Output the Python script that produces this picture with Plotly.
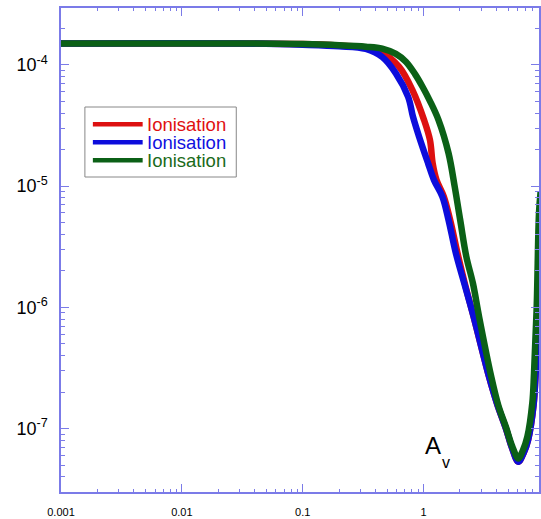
import plotly.graph_objects as go

# ---- data ----
red_x = [0.001, 0.03, 0.1, 0.2, 0.333, 0.455, 0.628, 0.809, 1.01, 1.13, 1.19, 1.28, 1.47, 1.66, 1.91, 2.21, 2.594, 3.48, 4.06, 4.79, 5.40, 6.08, 6.72, 7.32, 8.13, 8.44, 8.93, 9.37]
red_y = [1.5e-4, 1.5e-4, 1.48e-4, 1.44e-4, 1.39e-4, 1.26e-4, 9.6e-5, 6.18e-5, 3.5e-5, 2.39e-5, 1.53e-5, 1.12e-5, 8.2e-6, 5.24e-6, 2.79e-6, 1.53e-6, 8.37e-7, 2.68e-7, 1.60e-7, 1.01e-7, 6.92e-8, 5.33e-8, 6.30e-8, 8.05e-8, 1.57e-7, 2.77e-7, 7.85e-7, 4.34e-6]

blue_x = [0.001, 0.03, 0.1, 0.2, 0.333, 0.455, 0.59, 0.745, 0.817, 0.918, 1.09, 1.22, 1.43, 1.61, 1.85, 2.19, 2.594, 3.48, 4.06, 4.79, 5.40, 6.08, 6.72, 7.32, 8.13, 8.44, 8.93, 9.37]
blue_y = [1.5e-4, 1.5e-4, 1.46e-4, 1.42e-4, 1.35e-4, 1.16e-4, 8.5e-5, 5.44e-5, 3.73e-5, 2.55e-5, 1.54e-5, 1.12e-5, 8.2e-6, 5.24e-6, 2.79e-6, 1.53e-6, 8.37e-7, 2.68e-7, 1.60e-7, 1.01e-7, 6.92e-8, 5.33e-8, 6.30e-8, 8.05e-8, 1.57e-7, 2.77e-7, 7.85e-7, 4.34e-6]

green_x = [0.001, 0.03, 0.1, 0.2, 0.333, 0.455, 0.59, 0.714, 0.85, 0.98, 1.13, 1.33, 1.61, 1.81, 2.01, 2.26, 2.56, 2.88, 3.62, 4.16, 4.79, 5.40, 6.08, 6.65, 7.22, 7.94, 8.2, 8.63, 9.02, 9.3]
green_y = [1.5e-4, 1.5e-4, 1.48e-4, 1.45e-4, 1.41e-4, 1.36e-4, 1.23e-4, 1.06e-4, 8.38e-5, 6.59e-5, 5.02e-5, 3.50e-5, 1.86e-5, 9.87e-6, 5.24e-6, 2.61e-6, 1.58e-6, 8.37e-7, 2.72e-7, 1.55e-7, 1.04e-7, 7.19e-8, 5.69e-8, 6.67e-8, 8.57e-8, 1.63e-7, 2.87e-7, 1.01e-6, 6.0e-6, 9.0e-6]

series_names = ["Ionisation", "Ionisation", "Ionisation"]
series_colors = ["#dd1010", "#0c0cdc", "#0b6016"]
text_colors = ["#e01010", "#1010e0", "#1a6a1a"]

x_tick_vals = [0.001, 0.01, 0.1, 1, 10]
x_tick_text = ["0.001", "0.01", "0.1", "1", "10"]
y_decades = [-7, -6, -5, -4]

AXIS = "#7b7be8"
FONT = "Liberation Sans, Arial, sans-serif"
W, H = 541, 519
ML, MR, MT, MB = 61, 0, 8, 27


def px_to_paper(px, py):
    return (px - ML) / (W - ML - MR), (H - MB - py) / (H - MT - MB)


fig = go.Figure()
for xs, ys, name, col in zip([red_x, blue_x, green_x], [red_y, blue_y, green_y],
                             series_names, series_colors):
    fig.add_trace(go.Scatter(
        x=xs, y=ys, mode="lines", name=name, showlegend=False,
        line=dict(color=col, width=6.5, shape="spline", smoothing=1.0),
    ))

x_minor = [m * 10.0 ** d for d in range(-3, 1) for m in range(2, 10)]
y_minor = [m * 10.0 ** d for d in range(-8, -3) for m in range(2, 10)]

# legend box drawn as paper-referenced shapes + text
shapes = []
annotations = []
bx0, by0 = px_to_paper(85, 177)
bx1, by1 = px_to_paper(237, 107)
shapes.append(dict(type="rect", xref="paper", yref="paper", x0=bx0, y0=by0, x1=bx1, y1=by1,
                   line=dict(color="#888888", width=1), fillcolor="white", layer="above"))
for i, (name, col, tcol) in enumerate(zip(series_names, series_colors, text_colors)):
    row_y = 124.3 + 18 * i
    lx0, ly = px_to_paper(93, row_y)
    lx1, _ = px_to_paper(143, row_y)
    shapes.append(dict(type="line", xref="paper", yref="paper", x0=lx0, y0=ly, x1=lx1, y1=ly,
                       line=dict(color=col, width=4.5), layer="above"))
    tx, ty = px_to_paper(145, row_y)
    annotations.append(dict(x=tx, y=ty, xref="paper", yref="paper", text=name,
                            xanchor="left", yanchor="middle", showarrow=False,
                            font=dict(size=18.5, family=FONT, color=tcol)))

annotations += [
    dict(x=0.079, y=-7.135, xref="x", yref="y", text="A", showarrow=False,
         font=dict(size=24, family=FONT, color="black")),
    dict(x=0.185, y=-7.28, xref="x", yref="y", text="v", showarrow=False,
         font=dict(size=16, family=FONT, color="black")),
]

fig.update_layout(
    width=W, height=H,
    margin=dict(l=ML, r=MR, t=MT, b=MB),
    paper_bgcolor="white", plot_bgcolor="white",
    font=dict(family=FONT, color="black"),
    showlegend=False,
    xaxis=dict(
        type="log", range=[-3, 0.955],
        tickmode="array", tickvals=x_tick_vals, ticktext=x_tick_text,
        ticks="inside", ticklen=8, tickcolor=AXIS, tickwidth=1,
        showline=True, linecolor=AXIS, linewidth=1.5, mirror="ticks",
        showgrid=False, zeroline=False,
        tickfont=dict(size=11, family=FONT),
        ticklabelstandoff=9,
        minor=dict(tickmode="array", tickvals=x_minor, ticks="inside", ticklen=3.5,
                   tickcolor=AXIS, showgrid=False),
    ),
    yaxis=dict(
        type="log", range=[-7.522, -3.532],
        tickmode="array", tickvals=[10.0 ** d for d in y_decades],
        ticktext=[f"10<sup>{d}</sup>" for d in y_decades],
        ticks="inside", ticklen=8, tickcolor=AXIS, tickwidth=1,
        showline=True, linecolor=AXIS, linewidth=1.5, mirror="ticks",
        showgrid=False, zeroline=False,
        tickfont=dict(size=18, family=FONT),
        ticklabelstandoff=8,
        minor=dict(tickmode="array", tickvals=y_minor, ticks="inside", ticklen=4,
                   tickcolor=AXIS, showgrid=False),
    ),
    shapes=shapes,
    annotations=annotations,
)

fig.write_html("out.html", config={"displayModeBar": False},
               post_script="document.body.style.margin='0px';document.body.style.overflow='hidden';")
